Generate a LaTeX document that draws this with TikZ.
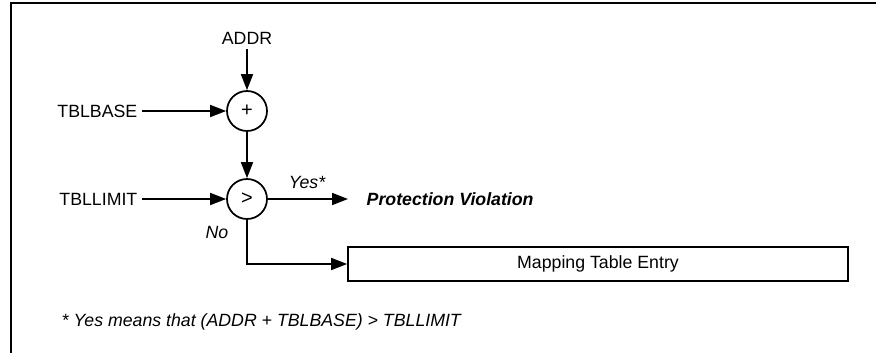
\documentclass[tikz,border=0pt]{standalone}
\usepackage{fontspec}
\setmainfont{Liberation Sans}
\usetikzlibrary{arrows.meta}

\tikzset{
  sumnode/.style={circle, draw=black, line width=1.3pt, inner sep=0,
    minimum size=30pt, font=\fontsize{15}{17}\selectfont},
  signal/.style={font=\fontsize{13.3}{16}\selectfont},
  flow/.style={line width=1.3pt, -{Triangle[length=12pt, width=9pt]}},
  tag/.style={font=\fontsize{13.3}{16}\selectfont\itshape}
}

\begin{document}
\begin{tikzpicture}[x=0.75pt, y=-0.75pt]
    \useasboundingbox (0,0) rectangle (876,353);
    % --- frame: top and left edges only ---
    \draw[line width=1.6pt] (11,353) -- (11,3) -- (876,3);

    % --- inputs ---
    \node[signal] (addr) at (247,38) {ADDR};
    \node[signal, anchor=east] (tblbase) at (142,111) {TBLBASE};
    \node[signal, anchor=east] (tbllimit) at (142,199) {TBLLIMIT};

    % --- adder and comparator ---
    \node[sumnode] (plus) at (247,111) {+};
    \node[sumnode] (cmp) at (247,199) {>};

    \draw[flow] (addr) -- (plus);
    \draw[flow] (tblbase) -- (plus);
    \draw[flow] (plus) -- (cmp);
    \draw[flow] (tbllimit) -- (cmp);

    % --- yes branch ---
    \coordinate (yesend) at (348,199);
    \draw[flow] (cmp) -- (yesend);
    \node[tag] (yes) at (307,182) {Yes*};
    \node[font=\fontsize{13.3}{16}\selectfont\bfseries\itshape, anchor=west]
      (violation) at (362,199) {Protection Violation};

    % --- no branch ---
    \node[draw=black, line width=1.3pt, minimum width=375pt, minimum height=25.5pt,
          signal] (entry) at (598,264) {Mapping Table Entry};
    \node[tag] (no) at (217,232) {No};
    \coordinate (turn) at (247,264);
    \draw[flow] (cmp) -- (turn) -- (entry.west);

    % --- footnote ---
    \node[tag, anchor=west] (note) at (57,322)
      {* Yes means that (ADDR + TBLBASE) > TBLLIMIT};
\end{tikzpicture}
\end{document}
